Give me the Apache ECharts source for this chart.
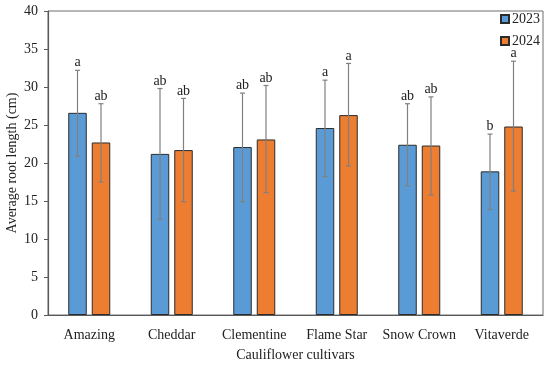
<!DOCTYPE html>
<html>
<head>
<meta charset="utf-8">
<script src="https://cdn.jsdelivr.net/npm/echarts@6/dist/echarts.min.js"></script>
<style>html,body{margin:0;padding:0;background:#fff;}#c{width:550px;height:366px;}</style>
</head>
<body>
<div id="c"></div>
<script>
const categories = ['Amazing', 'Cheddar', 'Clementine', 'Flame Star', 'Snow Crown', 'Vitaverde'];
const mean2023 = [26.6, 21.2, 22.1, 24.6, 22.4, 18.9];
const mean2024 = [22.7, 21.7, 23.1, 26.3, 22.3, 24.8];
const errHigh2023 = [32.2, 29.8, 29.2, 30.9, 27.8, 23.8];
const errLow2023 = [20.9, 12.6, 14.9, 18.2, 17.0, 13.9];
const errHigh2024 = [27.8, 28.5, 30.2, 33.1, 28.7, 33.4];
const errLow2024 = [17.5, 14.9, 16.1, 19.6, 15.8, 16.3];
const letters2023 = ['a', 'ab', 'ab', 'a', 'ab', 'b'];
const letters2024 = ['ab', 'ab', 'ab', 'a', 'ab', 'a'];
const yTicks = [0, 5, 10, 15, 20, 25, 30, 35, 40];

const FONT = 'Liberation Serif';
const BAR_W = 18.5;
const BAR_GAP = 5;
const OFF = (BAR_W + BAR_GAP) / 2;

function errData(low, high, letters) {
  return categories.map((c, i) => [i, low[i], high[i], letters[i]]);
}
function makeRender(offset) {
  return function (params, api) {
    const i = api.value(0);
    const lo = api.coord([i, api.value(1)]);
    const hi = api.coord([i, api.value(2)]);
    const x = lo[0] + offset;
    const cap = 2.5;
    const st = { stroke: '#808080', lineWidth: 1.2 };
    return {
      type: 'group',
      children: [
        { type: 'line', shape: { x1: x, y1: lo[1], x2: x, y2: hi[1] }, style: st },
        { type: 'line', shape: { x1: x - cap, y1: lo[1], x2: x + cap, y2: lo[1] }, style: st },
        { type: 'line', shape: { x1: x - cap, y1: hi[1], x2: x + cap, y2: hi[1] }, style: st },
        { type: 'text', style: { x: x, y: hi[1] - 0.5, text: api.value(3), textAlign: 'center', textVerticalAlign: 'bottom', font: '14px "' + FONT + '"', fill: '#222' } }
      ]
    };
  };
}

const chart = echarts.init(document.getElementById('c'), null, { renderer: 'canvas' });
chart.setOption({
  animation: false,
  backgroundColor: '#fff',
  textStyle: { fontFamily: FONT },
  grid: { left: 48, right: 7, top: 11, bottom: 51, show: true, borderColor: '#6e6e6e', borderWidth: 1,
    containLabel: false, outerBoundsMode: 'none' },
  legend: {
    data: ['2023', '2024'],
    icon: 'rect',
    orient: 'vertical',
    left: 495, top: 7,
    itemWidth: 8, itemHeight: 8, itemGap: 8,
    textStyle: { fontFamily: FONT, fontSize: 14, color: '#222', padding: [0, 0, 0, -2] }
  },
  xAxis: {
    type: 'category',
    data: categories,
    name: 'Cauliflower cultivars',
    nameLocation: 'middle',
    nameGap: 33,
    nameMoveOverlap: false,
    nameTextStyle: { fontFamily: FONT, fontSize: 14, color: '#222' },
    axisLine: { lineStyle: { color: '#595959', width: 1.2 } },
    axisTick: { show: false },
    axisLabel: { interval: 0, fontFamily: FONT, fontSize: 14, color: '#222', margin: 13 }
  },
  yAxis: {
    type: 'value',
    min: 0, max: 40, interval: 5,
    name: 'Average root length (cm)',
    nameLocation: 'middle',
    nameGap: 29,
    nameMoveOverlap: false,
    nameTextStyle: { fontFamily: FONT, fontSize: 14, color: '#222' },
    axisLine: { show: true, lineStyle: { color: '#595959', width: 1.2 } },
    axisTick: { show: true, length: 4, lineStyle: { color: '#595959' } },
    splitLine: { show: false },
    axisLabel: { fontFamily: FONT, fontSize: 14, color: '#222', margin: 10,
      formatter: v => yTicks.includes(v) ? String(v) : '' }
  },
  series: [
    { name: '2023', type: 'bar', data: mean2023, barWidth: BAR_W, barGap: (BAR_GAP / BAR_W * 100) + '%',
      itemStyle: { color: '#5B9BD5', borderColor: '#2b2b2b', borderWidth: 1 } },
    { name: '2024', type: 'bar', data: mean2024, barWidth: BAR_W,
      itemStyle: { color: '#ED7D31', borderColor: '#2b2b2b', borderWidth: 1 } },
    { type: 'custom', data: errData(errLow2023, errHigh2023, letters2023), renderItem: makeRender(-OFF), z: 10, silent: true,
      encode: { x: 0, y: [1, 2] } },
    { type: 'custom', data: errData(errLow2024, errHigh2024, letters2024), renderItem: makeRender(OFF), z: 10, silent: true,
      encode: { x: 0, y: [1, 2] } }
  ]
});
</script>
</body>
</html>
